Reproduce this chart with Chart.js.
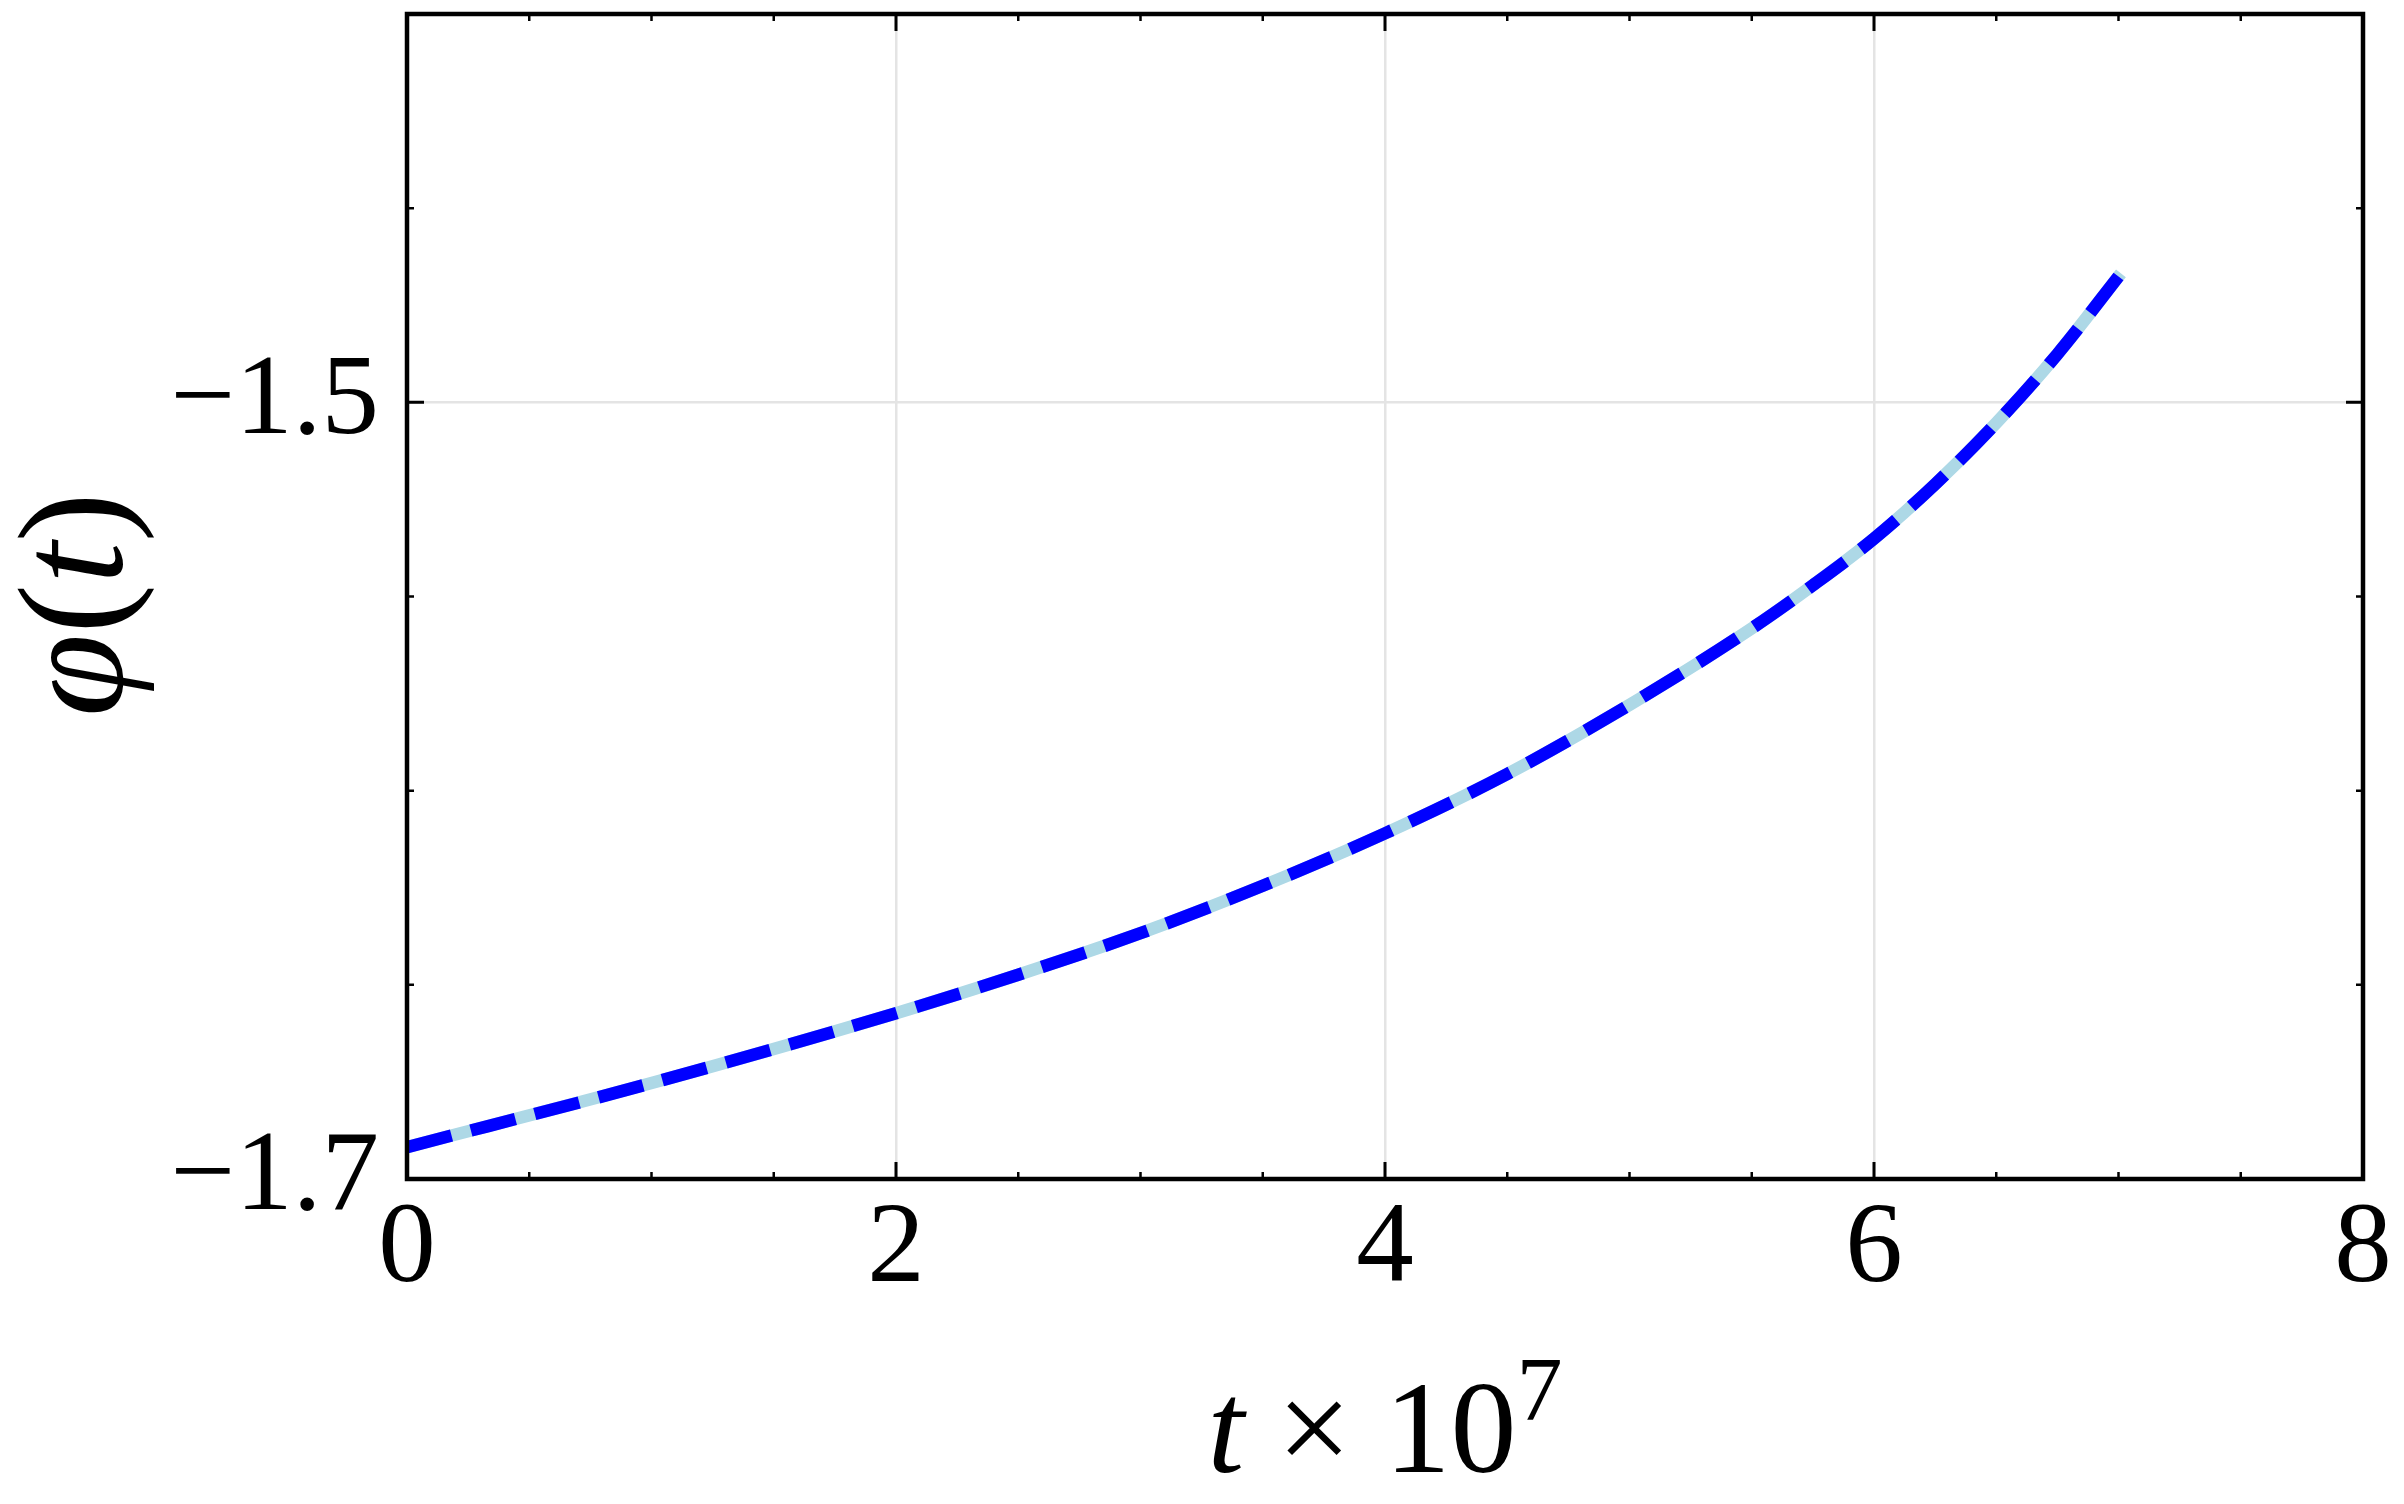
<!DOCTYPE html>
<html>
<head>
<meta charset="utf-8">
<script src="https://cdn.jsdelivr.net/npm/chart.js@4.4.1/dist/chart.umd.min.js"></script>
<style>
  html, body { margin: 0; padding: 0; background: #fff; }
  #wrap { width: 2404px; height: 1504px; position: relative; }
</style>
</head>
<body>
<div id="wrap"><canvas id="phiChart"></canvas></div>
<script>
// values (t in units of 1e7)
const tValues   = [0, 1, 2, 2.5, 3, 3.5, 4, 4.5, 5, 5.5, 5.75, 6, 6.25, 6.5, 6.75, 7.01];
const phiValues = [-1.6918, -1.6753, -1.6573, -1.6474, -1.6367, -1.6245, -1.6110, -1.5957,
                   -1.5779, -1.5582, -1.5471, -1.5351, -1.5211, -1.5053, -1.4876, -1.4668];

// tick positions
const xMajorTicks = [0, 2, 4, 6, 8];
const xMinorTicks = [0.5, 1, 1.5, 2.5, 3, 3.5, 4.5, 5, 5.5, 6.5, 7, 7.5];
const yMajorTicks = [-1.7, -1.5];
const yMinorTicks = [-1.65, -1.6, -1.55, -1.45];

const points = tValues.map((t, i) => ({ x: t, y: phiValues[i] }));

const SERIF = '"Liberation Serif", "DejaVu Serif", serif';

// frame, inward ticks on all four sides, and the axis titles
const framePlugin = {
    id: 'frame',
    afterDraw(chart) {
        const ctx = chart.ctx;
        const a = chart.chartArea;
        const xs = chart.scales.x, ys = chart.scales.y;

        ctx.save();
        ctx.strokeStyle = '#000';
        ctx.lineCap = 'butt';

        const tick = (vals, len, w, horiz) => {
            ctx.lineWidth = w;
            vals.forEach(v => {
                ctx.beginPath();
                if (horiz) {
                    const px = xs.getPixelForValue(v);
                    ctx.moveTo(px, a.bottom); ctx.lineTo(px, a.bottom - len);
                    ctx.moveTo(px, a.top); ctx.lineTo(px, a.top + len);
                } else {
                    const py = ys.getPixelForValue(v);
                    ctx.moveTo(a.left, py); ctx.lineTo(a.left + len, py);
                    ctx.moveTo(a.right, py); ctx.lineTo(a.right - len, py);
                }
                ctx.stroke();
            });
        };
        tick(xMajorTicks, 17, 3, true);
        tick(xMinorTicks, 7, 2.5, true);
        tick(yMajorTicks, 17, 3, false);
        tick(yMinorTicks, 7, 2.5, false);

        ctx.lineWidth = 4.5;
        ctx.strokeRect(a.left, a.top, a.right - a.left, a.bottom - a.top);

        ctx.fillStyle = '#000';
        ctx.textBaseline = 'alphabetic';

        // x title: t × 10^7
        const big = 132, sup = 92;
        const fItal = 'italic ' + big + 'px ' + SERIF;
        const fRom = big + 'px ' + SERIF;
        const fSup = sup + 'px ' + SERIF;
        const parts = [
            { s: 't', f: fItal, dy: 0 },
            { s: ' \u00d7 ', f: fRom, dy: 0 },
            { s: '10', f: fRom, dy: 0 },
            { s: '7', f: fSup, dy: -52 }
        ];
        let total = 0;
        parts.forEach(p => { ctx.font = p.f; p.w = ctx.measureText(p.s).width; total += p.w; });
        let x = (a.left + a.right) / 2 - total / 2;
        const baseY = 1472;
        ctx.textAlign = 'left';
        parts.forEach(p => { ctx.font = p.f; ctx.fillText(p.s, x, baseY + p.dy); x += p.w; });

        // y title: φ(t), rotated
        const fItalY = 'italic 150px ' + SERIF;
        const fRomY = '150px ' + SERIF;
        const yparts = [
            { s: '\u03c6', f: fItalY },
            { s: '(', f: fRomY },
            { s: 't', f: fItalY },
            { s: ')', f: fRomY }
        ];
        let ytotal = 0;
        yparts.forEach(p => { ctx.font = p.f; p.w = ctx.measureText(p.s).width; ytotal += p.w; });
        ctx.translate(122, (a.top + a.bottom) / 2 + 8);
        ctx.rotate(-Math.PI / 2);
        let u = -ytotal / 2;
        yparts.forEach(p => { ctx.font = p.f; ctx.fillText(p.s, u, 0); u += p.w; });

        ctx.restore();
    }
};

const noPad = s => { s.paddingTop = 0; s.paddingBottom = 0; s.paddingLeft = 0; s.paddingRight = 0; };

const ctx = document.getElementById('phiChart').getContext('2d');
new Chart(ctx, {
    type: 'line',
    data: {
        datasets: [
            {
                data: points,
                borderColor: '#0000ff',
                borderWidth: 12.5,
                borderDash: [46, 20],
                borderCapStyle: 'butt',
                pointRadius: 0,
                fill: false,
                cubicInterpolationMode: 'monotone',
                order: 0
            },
            {
                data: points,
                borderColor: '#add8e6',
                borderWidth: 12.5,
                borderCapStyle: 'butt',
                pointRadius: 0,
                fill: false,
                cubicInterpolationMode: 'monotone',
                order: 1
            }
        ]
    },
    options: {
        responsive: true,
        maintainAspectRatio: false,
        animation: false,
        events: [],
        layout: { padding: { top: 14, right: 41, left: 0, bottom: 0 } },
        plugins: {
            legend: { display: false },
            tooltip: { enabled: false }
        },
        scales: {
            x: {
                type: 'linear',
                min: 0,
                max: 8,
                afterBuildTicks: s => { s.ticks = xMajorTicks.map(v => ({ value: v })); },
                afterFit: s => { s.height = 325; noPad(s); },
                grid: { color: '#e4e4e4', lineWidth: 2.5, drawTicks: false },
                border: { display: false },
                ticks: {
                    padding: 3,
                    color: '#000',
                    font: { family: SERIF, size: 115 },
                    maxRotation: 0,
                    callback: v => String(v)
                }
            },
            y: {
                type: 'linear',
                min: -1.7,
                max: -1.4,
                afterBuildTicks: s => { s.ticks = yMajorTicks.map(v => ({ value: v })); },
                afterFit: s => { s.width = 407; noPad(s); },
                grid: { color: '#e4e4e4', lineWidth: 2.5, drawTicks: false },
                border: { display: false },
                ticks: {
                    padding: 28,
                    color: '#000',
                    font: { family: SERIF, size: 115 },
                    callback: v => '\u2212' + Math.abs(v).toFixed(1)
                }
            }
        }
    },
    plugins: [framePlugin]
});
</script>
</body>
</html>
